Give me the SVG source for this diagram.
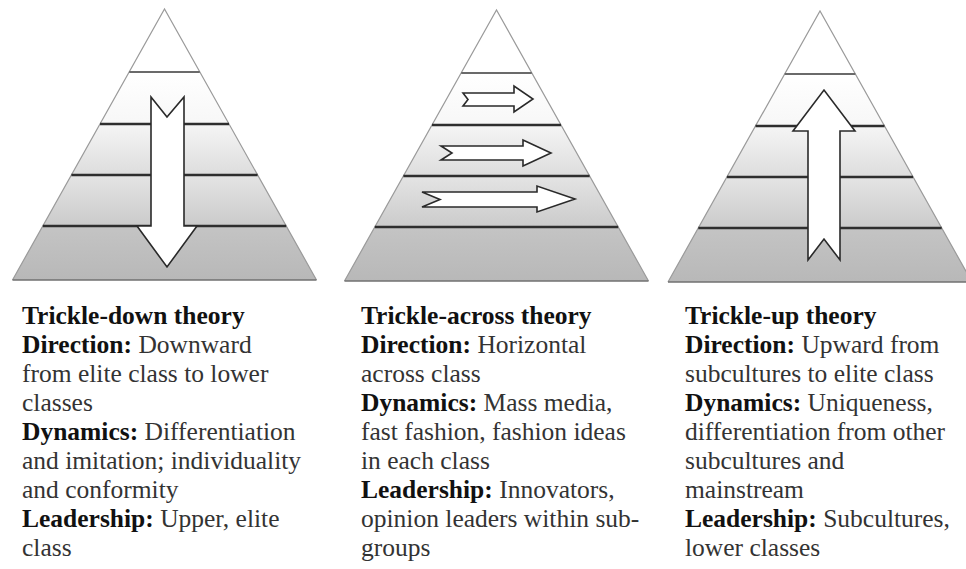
<svg xmlns="http://www.w3.org/2000/svg" width="966" height="569" viewBox="0 0 966 569">
<defs>
<style>
.edge{fill:none;stroke:#9a9a9a;stroke-width:1.2}
.base{stroke:#707070;stroke-width:1.6}
.thin{stroke:#6a6a6a;stroke-width:1.8}
.thick{stroke:#2e2e2e;stroke-width:2.6}
.arrow{fill:#ffffff;stroke:#2a2a2a;stroke-width:1.6;stroke-linejoin:miter}
.t{font-family:Liberation Serif, Tinos, Times New Roman, DejaVu Serif, serif;font-size:25.5px;fill:#333333}
.b{font-weight:bold;fill:#111111}
</style>
<clipPath id="tri"><polygon points="0,0 152,271 -152,271"/></clipPath>
<linearGradient id="g2" gradientUnits="userSpaceOnUse" x1="0" y1="63" x2="0" y2="115"><stop offset="0" stop-color="#ffffff"/><stop offset="1" stop-color="#f7f7f7"/></linearGradient>
<linearGradient id="g3" gradientUnits="userSpaceOnUse" x1="0" y1="115" x2="0" y2="166"><stop offset="0" stop-color="#f5f5f5"/><stop offset="1" stop-color="#dddddd"/></linearGradient>
<linearGradient id="g4" gradientUnits="userSpaceOnUse" x1="0" y1="166" x2="0" y2="217"><stop offset="0" stop-color="#e4e4e4"/><stop offset="1" stop-color="#cbcbcb"/></linearGradient>
<linearGradient id="g5" gradientUnits="userSpaceOnUse" x1="0" y1="217" x2="0" y2="271"><stop offset="0" stop-color="#c4c4c4"/><stop offset="1" stop-color="#b8b8b8"/></linearGradient>
<g id="pyr">
<g clip-path="url(#tri)">
<rect x="-160" y="0" width="320" height="63" fill="#ffffff"/>
<rect x="-160" y="63" width="320" height="52" fill="url(#g2)"/>
<rect x="-160" y="115" width="320" height="51" fill="url(#g3)"/>
<rect x="-160" y="166" width="320" height="51" fill="url(#g4)"/>
<rect x="-160" y="217" width="320" height="54" fill="url(#g5)"/>
</g>
<polyline class="edge" points="-152,271 0,0 152,271"/>
<line class="base" x1="-152" y1="271" x2="152" y2="271"/>
<line class="thin" x1="-35.3" y1="63" x2="35.3" y2="63"/>
<line class="thick" x1="-64.5" y1="115" x2="64.5" y2="115"/>
<line class="thick" x1="-93.1" y1="166" x2="93.1" y2="166"/>
<line class="thick" x1="-121.7" y1="217" x2="121.7" y2="217"/>
</g>
</defs>
<rect width="966" height="569" fill="#ffffff"/>

<g id="pyramid-down"><use href="#pyr" transform="translate(164.5,9)"/></g>
<g id="pyramid-across"><use href="#pyr" transform="translate(496.5,10)"/></g>
<g id="pyramid-up"><use href="#pyr" transform="translate(820,11)"/></g>

<g id="arrows">
<polygon class="arrow" points="151,97 167,117 184,97 184,226 197,226 167,267 137,226 151,226"/>
<polygon class="arrow" points="463,93 514,93 514,86 533,99 514,112 514,106 463,106 468,99.5"/>
<polygon class="arrow" points="441,146 523,146 523,140 551,153 523,166 523,160 441,160 452,153"/>
<polygon class="arrow" points="422,192 537,192 537,186 575,199 537,212 537,207 422,207 440,199.5"/>
<polygon class="arrow" points="808,260 824,239 840,260 840,131 855,131 824,90 793,131 808,131"/>
</g>

<g id="text-down">
<text class="t b" font-family="Liberation Serif" x="22" y="324">Trickle-down theory</text>
<text class="t" font-family="Liberation Serif" x="22" y="353"><tspan class="b">Direction:</tspan> Downward</text>
<text class="t" font-family="Liberation Serif" x="22" y="382">from elite class to lower</text>
<text class="t" font-family="Liberation Serif" x="22" y="411">classes</text>
<text class="t" font-family="Liberation Serif" x="22" y="440"><tspan class="b">Dynamics:</tspan> Differentiation</text>
<text class="t" font-family="Liberation Serif" x="22" y="469">and imitation; individuality</text>
<text class="t" font-family="Liberation Serif" x="22" y="498">and conformity</text>
<text class="t" font-family="Liberation Serif" x="22" y="527"><tspan class="b">Leadership:</tspan> Upper, elite</text>
<text class="t" font-family="Liberation Serif" x="22" y="556">class</text>
</g>

<g id="text-across">
<text class="t b" font-family="Liberation Serif" x="361" y="324">Trickle-across theory</text>
<text class="t" font-family="Liberation Serif" x="361" y="353"><tspan class="b">Direction:</tspan> Horizontal</text>
<text class="t" font-family="Liberation Serif" x="361" y="382">across class</text>
<text class="t" font-family="Liberation Serif" x="361" y="411"><tspan class="b">Dynamics:</tspan> Mass media,</text>
<text class="t" font-family="Liberation Serif" x="361" y="440">fast fashion, fashion ideas</text>
<text class="t" font-family="Liberation Serif" x="361" y="469">in each class</text>
<text class="t" font-family="Liberation Serif" x="361" y="498"><tspan class="b">Leadership:</tspan> Innovators,</text>
<text class="t" font-family="Liberation Serif" x="361" y="527">opinion leaders within sub-</text>
<text class="t" font-family="Liberation Serif" x="361" y="556">groups</text>
</g>

<g id="text-up">
<text class="t b" font-family="Liberation Serif" x="685" y="324">Trickle-up theory</text>
<text class="t" font-family="Liberation Serif" x="685" y="353"><tspan class="b">Direction:</tspan> Upward from</text>
<text class="t" font-family="Liberation Serif" x="685" y="382">subcultures to elite class</text>
<text class="t" font-family="Liberation Serif" x="685" y="411"><tspan class="b">Dynamics:</tspan> Uniqueness,</text>
<text class="t" font-family="Liberation Serif" x="685" y="440">differentiation from other</text>
<text class="t" font-family="Liberation Serif" x="685" y="469">subcultures and</text>
<text class="t" font-family="Liberation Serif" x="685" y="498">mainstream</text>
<text class="t" font-family="Liberation Serif" x="685" y="527"><tspan class="b">Leadership:</tspan> Subcultures,</text>
<text class="t" font-family="Liberation Serif" x="685" y="556">lower classes</text>
</g>
</svg>
